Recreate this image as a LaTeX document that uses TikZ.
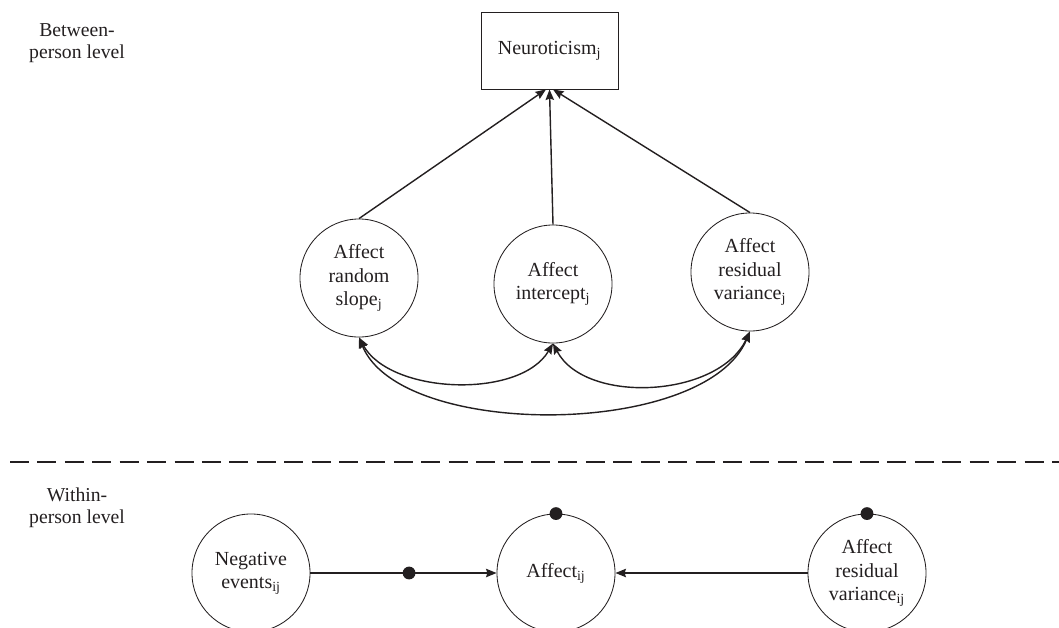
\documentclass[tikz,border=0pt]{standalone}
\usepackage{fontspec}
\setmainfont{Liberation Serif}
\usetikzlibrary{arrows.meta,positioning}
\definecolor{ink}{RGB}{35,31,32}
\tikzset{
    latvar/.style={draw=ink, circle, line width=0.6pt, minimum size=2.95cm,
        inner sep=0pt, align=center, text=ink, font=\fontsize{14.2}{16.5}\selectfont},
    obsbox/.style={draw=ink, rectangle, line width=0.6pt, minimum width=3.425cm,
        minimum height=1.925cm, text=ink, font=\fontsize{14.2}{16.5}\selectfont},
    levellabel/.style={align=center, text=ink, font=\fontsize{14}{16}\selectfont},
    patharrow/.style={-{Stealth[length=7.5pt, width=6pt, inset=1pt]}, line width=1pt, draw=ink},
    covarrow/.style={{Stealth[length=7.5pt, width=6pt, inset=1pt]}-{Stealth[length=7.5pt, width=6pt, inset=1pt]},
        line width=1pt, draw=ink},
    randdot/.style={circle, fill=ink, inner sep=0pt, minimum size=0.32cm}
}

\begin{document}
\begin{tikzpicture}[x=0.025cm, y=-0.025cm]
\useasboundingbox (0,0) rectangle (1059,627);
\clip (0,0) rectangle (1059,627);
\node[levellabel] (between) at (77,43) {Between-\\person level};
\node[levellabel] (within) at (77,508) {Within-\\person level};
\node[obsbox] (neuro) at (549.5,50.5) {Neuroticism\textsubscript{j}};
\node[latvar] (slope) at (359,278) {Affect\\random\\slope\textsubscript{j}};
\node[latvar] (icept) at (553,284) {Affect\\intercept\textsubscript{j}};
\node[latvar] (resvar) at (750,272) {Affect\\residual\\variance\textsubscript{j}};
\node[latvar] (negev) at (251,573) {Negative\\events\textsubscript{ij}};
\node[latvar] (affect) at (556,573) {Affect\textsubscript{ij}};
\node[latvar] (resij) at (867,573) {Affect\\residual\\variance\textsubscript{ij}};
\draw[patharrow] (slope.north) -- ([xshift=-2.5pt]neuro.south);
\draw[patharrow] (icept.north) -- (neuro.south);
\draw[patharrow] (resvar.north) -- ([xshift=2.5pt]neuro.south);
\draw[covarrow] (slope.south) .. controls +(31,57) and +(-33,56) .. (icept.south);
\draw[covarrow] (icept.south) .. controls +(32,61) and +(-32,67) .. (resvar.south);
\draw[covarrow] (slope.south) .. controls +(41,102) and +(-45,107) .. (resvar.south);
\draw[line width=2.1pt, draw=ink, dash pattern=on 13.5pt off 6pt] (10,462) -- (1059,462);
\draw[patharrow] (negev.east) -- node[randdot, pos=0.53] (slopedot) {} (affect.west);
\draw[patharrow] (resij.west) -- (affect.east);
\node[randdot] (affdot) at (affect.north) {};
\node[randdot] (resdot) at (resij.north) {};
\end{tikzpicture}
\end{document}
